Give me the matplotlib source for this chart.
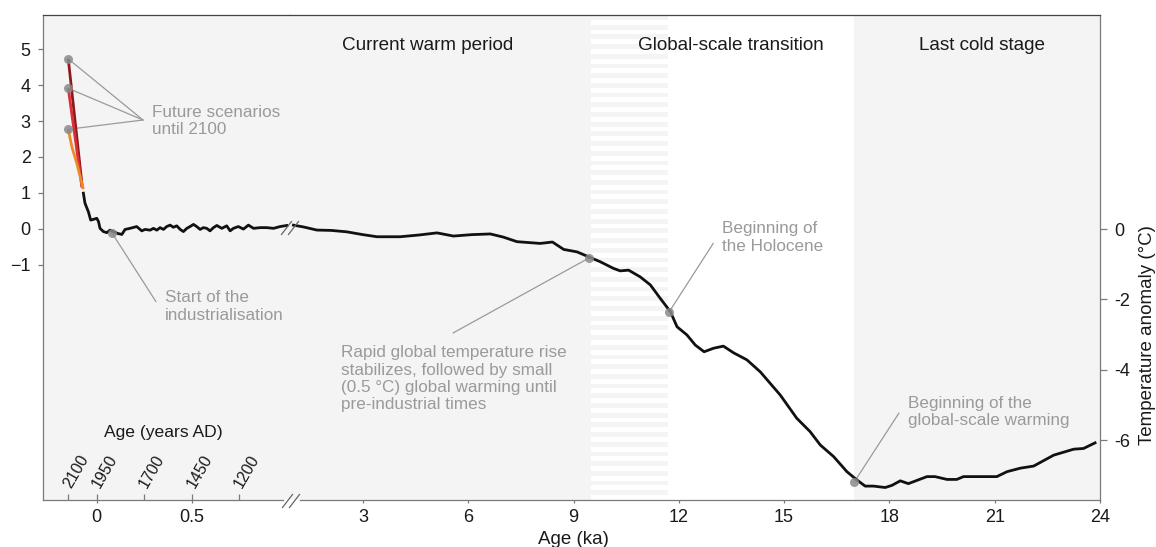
import matplotlib
matplotlib.use('Agg')
import matplotlib.pyplot as plt
import matplotlib.transforms as mtransforms
from matplotlib.lines import Line2D
from matplotlib.patches import Rectangle

plt.rcParams['font.family'] = ['Liberation Sans', 'DejaVu Sans']

# ---------------- data ----------------
# recent segment (age in ka; negative = future, years AD axis)
recent_age_ka = [-0.0705, -0.062, -0.044, -0.032, -0.018, 0.0, 0.009, 0.017, 0.035, 0.053,
                 0.070, 0.087, 0.109, 0.132, 0.149, 0.175, 0.21, 0.237, 0.254, 0.281,
                 0.298, 0.316, 0.333, 0.351, 0.368, 0.386, 0.403, 0.421, 0.439, 0.456,
                 0.474, 0.491, 0.509, 0.526, 0.544, 0.561, 0.579, 0.596, 0.614, 0.632,
                 0.658, 0.684, 0.702, 0.719, 0.745, 0.772, 0.798, 0.825, 0.86, 0.895,
                 0.93, 0.965, 1.0]
recent_temp = [0.99, 0.71, 0.47, 0.24, 0.26, 0.29, 0.20, 0.01, -0.08, -0.11,
               -0.04, -0.08, -0.13, -0.16, -0.02, 0.01, 0.06, -0.06, -0.02, -0.04,
               0.01, -0.04, 0.03, -0.02, 0.06, 0.10, 0.04, 0.08, -0.02, -0.08,
               0.01, 0.06, 0.12, 0.06, -0.02, 0.03, 0.01, -0.06, 0.03, 0.09,
               0.01, 0.08, -0.06, 0.01, 0.06, -0.01, 0.10, 0.01, 0.03, 0.03,
               0.01, 0.06, 0.09]

# long segment (age in ka)
deglacial_age_ka = [1.02, 1.3, 1.69, 2.1, 2.54, 3.0, 3.40, 4.06, 4.6, 5.11,
                    5.58, 6.1, 6.63, 7.0, 7.39, 8.05, 8.4, 8.72, 9.10, 9.43,
                    9.76, 10.14, 10.33, 10.57, 10.90, 11.19, 11.47, 11.76, 11.95, 12.23,
                    12.47, 12.72, 12.99, 13.27, 13.56, 13.94, 14.32, 14.89, 15.36, 15.74,
                    16.03, 16.41, 16.79, 17.08, 17.31, 17.55, 17.88, 18.07, 18.31, 18.54,
                    19.07, 19.30, 19.64, 19.92, 20.11, 20.49, 21.06, 21.35, 21.73, 22.11,
                    22.68, 23.25, 23.53, 23.86]
deglacial_temp = [0.11, 0.06, -0.03, -0.04, -0.08, -0.16, -0.22, -0.22, -0.17, -0.11,
                  -0.20, -0.16, -0.14, -0.23, -0.36, -0.41, -0.37, -0.58, -0.65, -0.79,
                  -0.93, -1.12, -1.19, -1.17, -1.36, -1.59, -1.97, -2.35, -2.78, -3.01,
                  -3.30, -3.49, -3.39, -3.33, -3.52, -3.72, -4.06, -4.72, -5.38, -5.76,
                  -6.14, -6.47, -6.90, -7.14, -7.31, -7.31, -7.35, -7.29, -7.16, -7.24,
                  -7.04, -7.04, -7.12, -7.12, -7.04, -7.04, -7.04, -6.90, -6.80, -6.74,
                  -6.43, -6.26, -6.24, -6.08]

# future scenarios (age in ka, 2100 AD = -0.15 ka)
scen_low_age = [-0.071, -0.083, -0.105, -0.131, -0.15]
scen_low_temp = [1.10, 1.36, 1.82, 2.28, 2.77]
scen_mid_age = [-0.078, -0.15]
scen_mid_temp = [1.15, 3.91]
scen_high_age = [-0.076, -0.15]
scen_high_temp = [1.15, 4.73]
scen_colors = ['#ec8a2a', '#dc2f3a', '#8e1b1b']

year_ticks_ad = [2100, 1950, 1700, 1450, 1200]
year_ticks_ka = [(1950 - y) / 1000 for y in year_ticks_ad]
recent_ka_ticks = [0, 0.5]
ka_ticks = [3, 6, 9, 12, 15, 18, 21, 24]
left_yticks = [5, 4, 3, 2, 1, 0, -1]
right_yticks = [0, -2, -4, -6]

transition_span = (9.5, 11.7)
cold_span = (17.0, 24.0)
period_names = ['Current warm period', 'Global-scale transition', 'Last cold stage']
period_label_ka = [4.83, 13.49, 20.65]

# annotated events
scen_dots_temp = [4.73, 3.91, 2.77]
indust_dot = (0.079, -0.11)
rapid_dot = (9.43, -0.83)
holocene_dot = (11.73, -2.35)
warming_dot = (17.0, -7.19)

# ---------------- figure ----------------
W, H = 1156, 547
fig = plt.figure(figsize=(W / 100, H / 100), dpi=100)

def fr(x0, x1, top, bottom):
    return [x0 / W, 1 - bottom / H, (x1 - x0) / W, (bottom - top) / H]

axL = fig.add_axes(fr(43, 290, 15, 500))
axR = fig.add_axes(fr(290, 1100, 15, 500))

axL.set_xlim(-0.283, 1.017)
axR.set_xlim(0.923, 24.0)
axL.set_ylim(-7.557, 5.953)
axR.set_ylim(-7.705, 6.085)

BG = '#f4f4f4'
axL.set_facecolor(BG)
axR.set_facecolor('white')
axR.axvspan(axR.get_xlim()[0], transition_span[0], color=BG, lw=0, zorder=0)
axR.axvspan(transition_span[0], transition_span[1], color=BG, lw=0, zorder=0)
axR.axvspan(cold_span[0], cold_span[1], color=BG, lw=0, zorder=0)
# white horizontal stripes in transition zone
trans = mtransforms.blended_transform_factory(axR.transData, axR.transAxes)
n_str = 50
for i in range(n_str):
    y0 = i / n_str
    axR.add_patch(Rectangle((transition_span[0], y0), transition_span[1] - transition_span[0],
                            0.5 / n_str, transform=trans, color='white', lw=0, zorder=0.5))

# spines
SP = '#7a7a7a'
for ax in (axL, axR):
    for s in ax.spines.values():
        s.set_linewidth(0.9)
        s.set_color(SP)
    ax.spines['top'].set_color('#444444')
axL.spines['right'].set_visible(False)
axR.spines['left'].set_visible(False)
axL.spines['bottom'].set_bounds(-0.283, 0.98)
axR.spines['bottom'].set_bounds(1.21, 24.0)

# curves
LW = 2.0
axL.plot(scen_high_age, scen_high_temp, color=scen_colors[2], lw=LW, zorder=3, solid_capstyle='butt')
axL.plot(scen_mid_age, scen_mid_temp, color=scen_colors[1], lw=LW, zorder=3, solid_capstyle='butt')
axL.plot(scen_low_age, scen_low_temp, color=scen_colors[0], lw=LW, zorder=3, solid_capstyle='butt')
axL.plot(recent_age_ka, recent_temp, color='#111111', lw=LW, zorder=3)
axR.plot(deglacial_age_ka, deglacial_temp, color='#111111', lw=LW, zorder=3)

# ticks
tc = '#7a7a7a'
axL.xaxis.remove_overlapping_locs = False
axL.set_xticks(year_ticks_ka)
axL.set_xticklabels([''] * len(year_ticks_ka))
axL.tick_params(axis='x', which='major', direction='in', length=4, width=0.9, color=tc)
axL.set_xticks(recent_ka_ticks, minor=True)
axL.set_xticklabels(['0', '0.5'], minor=True)
axL.tick_params(axis='x', which='minor', direction='out', length=2.5, width=0.9, color=tc,
                labelsize=13, pad=4, labelcolor='#1a1a1a')
axL.set_yticks(left_yticks)
axL.set_yticklabels(['5', '4', '3', '2', '1', '0', '\u22121'])
axL.tick_params(axis='y', direction='out', length=3.4, width=0.9, color=tc, labelsize=13,
                pad=5.5, labelcolor='#1a1a1a')

axR.set_xticks(ka_ticks)
axR.set_xticklabels([str(t) for t in ka_ticks])
axR.tick_params(axis='x', direction='out', length=2.5, width=0.9, color=tc, labelsize=13,
                pad=4, labelcolor='#1a1a1a')
axR.yaxis.tick_right()
axR.set_yticks(right_yticks)
axR.set_yticklabels(['0', '-2', '-4', '-6'])
axR.tick_params(axis='y', direction='out', length=4.7, width=0.9, color=tc, labelsize=13,
                pad=5.5, labelcolor='#1a1a1a')

# year labels (rotated, inside)
tL = mtransforms.blended_transform_factory(axL.transData, axL.transAxes)
for ka, yr in zip(year_ticks_ka, year_ticks_ad):
    axL.annotate(str(yr), xy=(ka, 0), xycoords=tL, xytext=(-0.8, 9.4), textcoords='offset points',
                 rotation=60, rotation_mode='anchor', ha='left', va='center', fontsize=11.5,
                 color='#1a1a1a')
axL.text((163.7 - 43) / 247, (500 - 432.7) / 485, 'Age (years AD)', transform=axL.transAxes,
         ha='center', va='center', fontsize=12.6, color='#1a1a1a')

# period titles
for name, ka in zip(period_names, period_label_ka):
    axR.text(ka, (500 - 45) / 485, name, transform=trans, ha='center', va='center',
             fontsize=13.6, color='#1a1a1a')

# axis labels
fig.text(573 / W, 1 - 539 / H, 'Age (ka)', ha='center', va='center', fontsize=13.5, color='#1a1a1a')
fig.text(1147 / W, 1 - 335 / H, 'Temperature anomaly (\u00b0C)', rotation=90, ha='center',
         va='center', fontsize=13.5, color='#1a1a1a')

# annotations
AC = '#9a9a9a'
AFS = 12.3
DOT = dict(marker='o', ms=6.5, color='#8a8a8a', alpha=0.85, ls='none', zorder=4, mec='none')

def lead(ax, dot, fx, fy):
    ax.annotate('', xy=dot, xycoords='data', xytext=(fx, fy), textcoords='axes fraction',
                arrowprops=dict(arrowstyle='-', color=AC, lw=0.9, shrinkA=0, shrinkB=0), zorder=2)

for t in scen_dots_temp:
    lead(axL, (year_ticks_ka[0], t), 100 / 247, 380 / 485)
    axL.plot([year_ticks_ka[0]], [t], **DOT)
axL.text(109 / 247, (500 - 121) / 485, 'Future scenarios\nuntil 2100', transform=axL.transAxes,
         ha='left', va='center', fontsize=AFS, color=AC)

lead(axL, indust_dot, (156 - 43) / 247, (500 - 301.7) / 485)
axL.plot([indust_dot[0]], [indust_dot[1]], **DOT)
axL.text((165 - 43) / 247, (500 - 306.5) / 485, 'Start of the\nindustrialisation',
         transform=axL.transAxes, ha='left', va='center', fontsize=AFS, color=AC)

lead(axR, rapid_dot, (453 - 290) / 810, (500 - 333) / 485)
axR.plot([rapid_dot[0]], [rapid_dot[1]], **DOT)
axR.text((340.7 - 290) / 810, (500 - 378.8) / 485,
         'Rapid global temperature rise\nstabilizes, followed by small\n(0.5 \u00b0C) global warming until\npre-industrial times',
         transform=axR.transAxes, ha='left', va='center', fontsize=AFS, color=AC)

lead(axR, holocene_dot, (713.3 - 290) / 810, (500 - 243.3) / 485)
axR.plot([holocene_dot[0]], [holocene_dot[1]], **DOT)
axR.text((722 - 290) / 810, (500 - 237.4) / 485, 'Beginning of\nthe Holocene',
         transform=axR.transAxes, ha='left', va='center', fontsize=AFS, color=AC)

lead(axR, warming_dot, (899 - 290) / 810, (500 - 413) / 485)
axR.plot([warming_dot[0]], [warming_dot[1]], **DOT)
axR.text((907.7 - 290) / 810, (500 - 412.2) / 485, 'Beginning of the\nglobal-scale warming',
         transform=axR.transAxes, ha='left', va='center', fontsize=AFS, color=AC)

# break marks "//"
def brk(cx, cy):
    for dx in (-3.5, 3.5):
        x0, y0 = cx + dx - 5, cy + 6.5
        x1, y1 = cx + dx + 5, cy - 6.5
        fig.add_artist(Line2D([x0 / W, x1 / W], [1 - y0 / H, 1 - y1 / H], color='#666666',
                              lw=0.9, zorder=10))
brk(291, 501)
brk(290, 228)

fig.savefig('out.png', dpi=100)
